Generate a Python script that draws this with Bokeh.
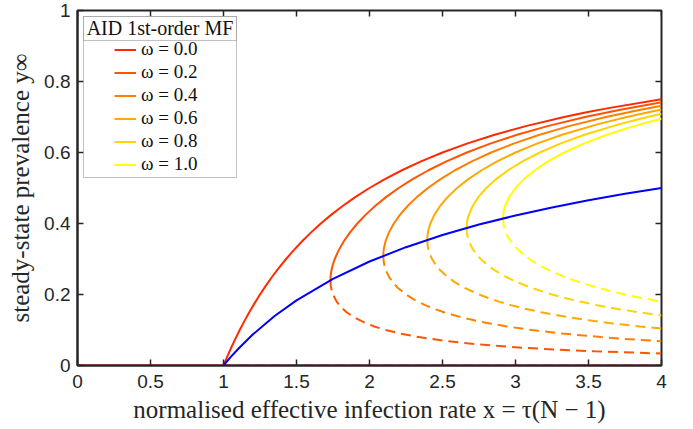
from bokeh.plotting import figure
from bokeh.models import (Range1d, FixedTicker, NumeralTickFormatter,
                          Legend, LegendItem, BoxAnnotation, Label)
from bokeh.embed import file_html
from bokeh.resources import INLINE

# ---------------- data ----------------
omega_labels = ["ω = 0.0", "ω = 0.2", "ω = 0.4", "ω = 0.6", "ω = 0.8", "ω = 1.0"]
omega_colors = ["#ff2a00", "#ff5500", "#ff8000", "#ffaa00", "#ffd400", "#ffff00"]

# stable (solid) branches
w00_x = [1.0, 1.0256, 1.0526, 1.0811, 1.1111, 1.1429, 1.1765, 1.2121, 1.25, 1.2903, 1.3333, 1.3793, 1.4286,
         1.4815, 1.5385, 1.6, 1.6667, 1.7391, 1.8182, 1.9048, 2.0, 2.1053, 2.2222, 2.3529, 2.5, 2.6667,
         2.8571, 3.0769, 3.3333, 3.4783, 3.6364, 4.0]
w00_y = [0.0, 0.025, 0.05, 0.075, 0.1, 0.125, 0.15, 0.175, 0.2, 0.225, 0.25, 0.275, 0.3,
         0.325, 0.35, 0.375, 0.4, 0.425, 0.45, 0.475, 0.5, 0.525, 0.55, 0.575, 0.6, 0.625,
         0.65, 0.675, 0.7, 0.7125, 0.725, 0.75]
w02_x = [1.7325, 1.7344, 1.7402, 1.7495, 1.7619, 1.7892, 1.8242, 1.8667, 1.9167, 1.9744, 2.0404, 2.1153,
         2.2, 2.2957, 2.404, 2.5269, 2.6667, 2.8267, 3.011, 3.2251, 3.4762, 3.7103, 4.0]
w02_y = [0.24, 0.255, 0.27, 0.285, 0.3, 0.325, 0.35, 0.375, 0.4, 0.425, 0.45, 0.475,
         0.5, 0.525, 0.55, 0.575, 0.6, 0.625, 0.65, 0.675, 0.7, 0.72, 0.7413]
w04_x = [2.0944, 2.0956, 2.0986, 2.1099, 2.1333, 2.1667, 2.2097, 2.2626, 2.3258, 2.4, 2.4862, 2.5859,
         2.7008, 2.8333, 2.9867, 3.1648, 3.3732, 3.619, 3.8492, 4.0]
w04_y = [0.309, 0.32, 0.33, 0.35, 0.375, 0.4, 0.425, 0.45, 0.475, 0.5, 0.525, 0.55,
         0.575, 0.6, 0.625, 0.65, 0.675, 0.7, 0.72, 0.7317]
w06_x = [2.3955, 2.3967, 2.4024, 2.4167, 2.445, 2.4848, 2.5363, 2.6, 2.6767, 2.7677, 2.8747, 3.0,
         3.1467, 3.3187, 3.5662, 3.7619, 3.8708, 4.0]
w06_y = [0.3539, 0.365, 0.38, 0.4, 0.425, 0.45, 0.475, 0.5, 0.525, 0.55, 0.575, 0.6,
         0.625, 0.65, 0.68, 0.7, 0.71, 0.721]
w08_x = [2.6649, 2.6667, 2.6705, 2.6765, 2.7071, 2.7469, 2.8, 2.8672, 2.9495, 3.0486, 3.1667, 3.3067,
         3.4725, 3.7132, 3.8542, 4.0]
w08_y = [0.3874, 0.4, 0.41, 0.42, 0.45, 0.475, 0.5, 0.525, 0.55, 0.575, 0.6, 0.625,
         0.65, 0.68, 0.695, 0.709]
w10_x = [2.9142, 2.9172, 2.9221, 2.9293, 2.9574, 3.0, 3.0576, 3.1313, 3.2225, 3.3333, 3.4667, 3.6264,
         3.7766, 3.9045, 4.0]
w10_y = [0.4142, 0.43, 0.44, 0.45, 0.475, 0.5, 0.525, 0.55, 0.575, 0.6, 0.625, 0.65,
         0.67, 0.685, 0.6952]

# unstable (dashed) branches
u00_x = [1.0, 4.0]
u00_y = [0.0, 0.0]
u02_x = [1.7325, 1.7348, 1.742, 1.75, 1.7751, 1.8037, 1.8431, 1.8968, 1.9697, 2.0327, 2.1111, 2.21,
         2.337, 2.5038, 2.7305, 3.0526, 3.2693, 3.5417, 4.0]
u02_y = [0.24, 0.225, 0.21, 0.2, 0.18, 0.165, 0.15, 0.135, 0.12, 0.11, 0.1, 0.09,
         0.08, 0.07, 0.06, 0.05, 0.045, 0.04, 0.0337]
u04_x = [2.0944, 2.0964, 2.1032, 2.1153, 2.1333, 2.1583, 2.1911, 2.25, 2.3081, 2.3813, 2.4405, 2.5098,
         2.5914, 2.6879, 2.803, 2.9418, 3.1111, 3.3211, 3.587, 3.7477, 4.0]
u04_y = [0.309, 0.295, 0.28, 0.265, 0.25, 0.235, 0.22, 0.2, 0.185, 0.17, 0.16, 0.15,
         0.14, 0.13, 0.12, 0.11, 0.1, 0.09, 0.08, 0.075, 0.0683]
u06_x = [2.3955, 2.3975, 2.4016, 2.4123, 2.4286, 2.4512, 2.481, 2.5333, 2.5838, 2.6457, 2.75, 2.8135,
         2.8862, 2.9695, 3.0655, 3.1765, 3.3056, 3.4571, 3.6364, 3.8509, 4.0]
u06_y = [0.3539, 0.34, 0.33, 0.315, 0.3, 0.285, 0.27, 0.25, 0.235, 0.22, 0.2, 0.19,
         0.18, 0.17, 0.16, 0.15, 0.14, 0.13, 0.12, 0.11, 0.104]
u08_x = [2.6649, 2.6667, 2.6736, 2.6861, 2.7046, 2.7297, 2.7619, 2.8021, 2.8514, 2.9333, 3.0093, 3.1002,
         3.25, 3.3398, 3.4417, 3.5578, 3.6905, 3.8431, 4.0]
u08_y = [0.3874, 0.375, 0.36, 0.345, 0.33, 0.315, 0.3, 0.285, 0.27, 0.25, 0.235, 0.22,
         0.2, 0.19, 0.18, 0.17, 0.16, 0.15, 0.141]
u10_x = [2.9142, 2.9167, 2.9214, 2.9287, 2.9447, 2.967, 2.9963, 3.0331, 3.0952, 3.153, 3.2217, 3.2744,
         3.3333, 3.3991, 3.4726, 3.5548, 3.6468, 3.75, 3.8661, 4.0]
u10_y = [0.4142, 0.4, 0.39, 0.38, 0.365, 0.35, 0.335, 0.32, 0.3, 0.285, 0.27, 0.26,
         0.25, 0.24, 0.23, 0.22, 0.21, 0.2, 0.19, 0.1798]

# disease-free state below threshold
zero_x = [0.0, 1.0]
zero_y = [0.0, 0.0]

# fold (saddle-node) locus, blue
fold_x = [1.0, 1.05, 1.1, 1.2, 1.35, 1.5, 1.75, 2.0, 2.25, 2.5, 2.75, 3.0, 3.25, 3.5, 3.75, 4.0]
fold_y = [0.0, 0.0241, 0.0465, 0.0871, 0.1393, 0.1835, 0.2441, 0.2929, 0.3333, 0.3675, 0.397, 0.4226, 0.4453, 0.4655, 0.4836, 0.5]

x_ticks = [0, 0.5, 1, 1.5, 2, 2.5, 3, 3.5, 4]
y_ticks = [0, 0.2, 0.4, 0.6, 0.8, 1]
x_max = 4
y_max = 1

stable = [(w00_x, w00_y), (w02_x, w02_y), (w04_x, w04_y), (w06_x, w06_y), (w08_x, w08_y), (w10_x, w10_y)]
unstable = [(u00_x, u00_y), (u02_x, u02_y), (u04_x, u04_y), (u06_x, u06_y), (u08_x, u08_y), (u10_x, u10_y)]

# ---------------- figure ----------------
AX = "#262626"
p = figure(width=693, height=429, output_backend="svg", toolbar_location=None,
           x_range=Range1d(0, x_max), y_range=Range1d(0, y_max),
           min_border_left=77, min_border_right=32, min_border_top=10, min_border_bottom=64)
p.xgrid.visible = False
p.ygrid.visible = False
p.outline_line_color = AX
p.outline_line_width = 2
p.background_fill_color = "white"

serif = "Liberation Serif"
sans = "Liberation Sans"

def style_axis(ax, ticks):
    ax.ticker = FixedTicker(ticks=ticks)
    ax.formatter = NumeralTickFormatter(format="0.[0]")
    ax.axis_line_color = AX
    ax.axis_line_width = 2
    ax.major_tick_in = 6
    ax.major_tick_out = 0
    ax.major_tick_line_color = AX
    ax.major_tick_line_width = 1.5
    ax.minor_tick_line_color = None
    ax.major_label_text_font = sans
    ax.major_label_text_font_size = "19px"
    ax.major_label_text_color = AX
    ax.axis_label_text_font = serif
    ax.axis_label_text_font_size = "25px"
    ax.axis_label_text_font_style = "normal"
    ax.axis_label_text_color = AX

style_axis(p.xaxis[0], x_ticks)
style_axis(p.yaxis[0], y_ticks)
p.xaxis[0].major_label_standoff = 9
p.yaxis[0].major_label_standoff = 7
p.xaxis[0].axis_label = "normalised effective infection rate x = τ(N − 1)"
p.yaxis[0].axis_label = "steady-state prevalence y∞"
p.xaxis[0].axis_label_standoff = 5
p.yaxis[0].axis_label_standoff = 7

# inward tick marks on the top and right edges (half of each mark is clipped by the frame)
p.scatter(x_ticks, [y_max] * len(x_ticks), marker="dash", angle=1.5708, size=12,
          line_color=AX, line_width=1.5)
p.scatter([x_max] * len(y_ticks), y_ticks, marker="dash", size=12,
          line_color=AX, line_width=1.5)

# ---------------- curves ----------------
p.line(zero_x, zero_y, line_color=omega_colors[0], line_width=2)
stable_renderers = []
for (sx, sy), (ux, uy), c in zip(stable, unstable, omega_colors):
    r = p.line(sx, sy, line_color=c, line_width=2)
    p.line(ux, uy, line_color=c, line_width=2, line_dash="10 6")
    stable_renderers.append(r)
p.line(fold_x, fold_y, line_color="#0000ff", line_width=2)

# ---------------- legend ----------------
outer = BoxAnnotation(left=0.0411, right=1.089, top=0.9831, bottom=0.5296,
                      fill_color="white", fill_alpha=1, line_color="#333333", line_width=1)
head = BoxAnnotation(left=0.0411, right=1.089, top=0.9831, bottom=0.9155,
                     fill_color="white", fill_alpha=1, line_color="#333333", line_width=1)
p.add_layout(outer)
p.add_layout(head)
p.add_layout(Label(x=0.565, y=0.9493, text="AID 1st-order MF", text_align="center",
                   text_baseline="middle", text_font=serif, text_font_size="20px",
                   text_color="#111111"))

legend = Legend(items=[LegendItem(label=l, renderers=[r]) for l, r in zip(omega_labels, stable_renderers)],
                location=(37, 190), padding=2, spacing=1, glyph_width=22, glyph_height=21,
                label_height=21, label_standoff=5, label_text_font=serif,
                label_text_font_size="19px", label_text_color="#111111",
                border_line_color=None, background_fill_alpha=0)
p.add_layout(legend)

open("out.html", "w").write(file_html(p, INLINE))
